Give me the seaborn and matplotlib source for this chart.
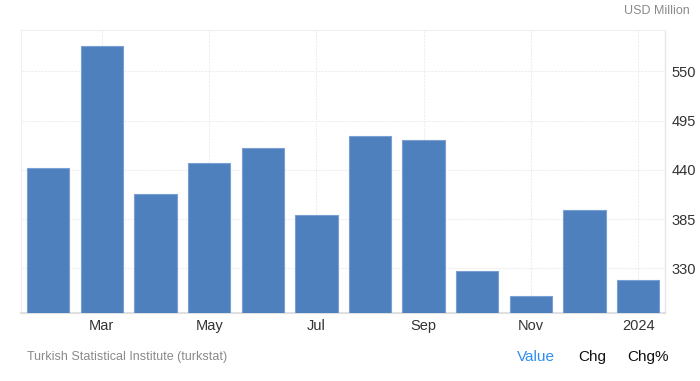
import matplotlib
matplotlib.use("Agg")
import matplotlib.pyplot as plt
import seaborn as sns
import pandas as pd

months = ["Feb", "Mar", "Apr", "May", "Jun", "Jul", "Aug", "Sep", "Oct", "Nov", "Dec", "Jan"]
values = [441.8, 577.8, 412.7, 448.2, 464.1, 389.2, 478.3, 473.9, 327.1, 299.1, 395.6, 317.4]
tick_positions = [1, 3, 5, 7, 9, 11]
tick_labels = ["Mar", "May", "Jul", "Sep", "Nov", "2024"]
y_ticks = [330, 385, 440, 495, 550]

sns.set_theme(style="white")
plt.rcParams["font.family"] = ["Liberation Sans", "DejaVu Sans"]

df = pd.DataFrame({"month": months, "value": values})

fig = plt.figure(figsize=(7, 3.81), dpi=100)
ax = fig.add_axes([0.0306, 0.1777, 0.9194, 0.7433])

sns.barplot(data=df, x="month", y="value", color="#4e80bd", width=0.79,
            edgecolor="#7a9fd2", linewidth=0.8, saturation=1, ax=ax, zorder=3)

ax.set_ylim(280, 596)
ax.set_xlim(-0.5, 11.5)
ax.yaxis.tick_right()
ax.set_yticks(y_ticks)
ax.set_xticks(tick_positions)
ax.set_xticklabels(tick_labels)
ax.tick_params(axis="both", length=0, labelsize=10.5, colors="#333333")
ax.tick_params(axis="x", pad=4)
ax.tick_params(axis="y", pad=5)
ax.set_xlabel("")
ax.set_ylabel("")

ax.grid(True, color="#eeeeee", linewidth=0.8, linestyle=(0, (2, 1)), zorder=0)
for side in ["left", "top"]:
    ax.spines[side].set_visible(True)
    ax.spines[side].set_color("#f0f0f0")
    ax.spines[side].set_linewidth(0.8)
ax.spines["right"].set_color("#e6e6e6")
ax.spines["right"].set_linewidth(1)
ax.spines["bottom"].set_color("#e0e0e0")
ax.spines["bottom"].set_linewidth(1.5)

fig.text(690 / 700, 1 - 11 / 381, "USD Million", ha="right", va="center",
         fontsize=9, color="#8a8a8a")
fig.text(27 / 700, 1 - 357 / 381, "Turkish Statistical Institute (turkstat)",
         ha="left", va="center", fontsize=9, color="#8a8a8a")
fig.text(517 / 700, 1 - 357 / 381, "Value", ha="left", va="center",
         fontsize=11, color="#2d8ef0")
fig.text(578 / 700, 1 - 357 / 381, "Chg", ha="left", va="center",
         fontsize=11, color="#111111")
fig.text(627 / 700, 1 - 357 / 381, "Chg%", ha="left", va="center",
         fontsize=11, color="#111111")

fig.savefig("out.png", dpi=100)
